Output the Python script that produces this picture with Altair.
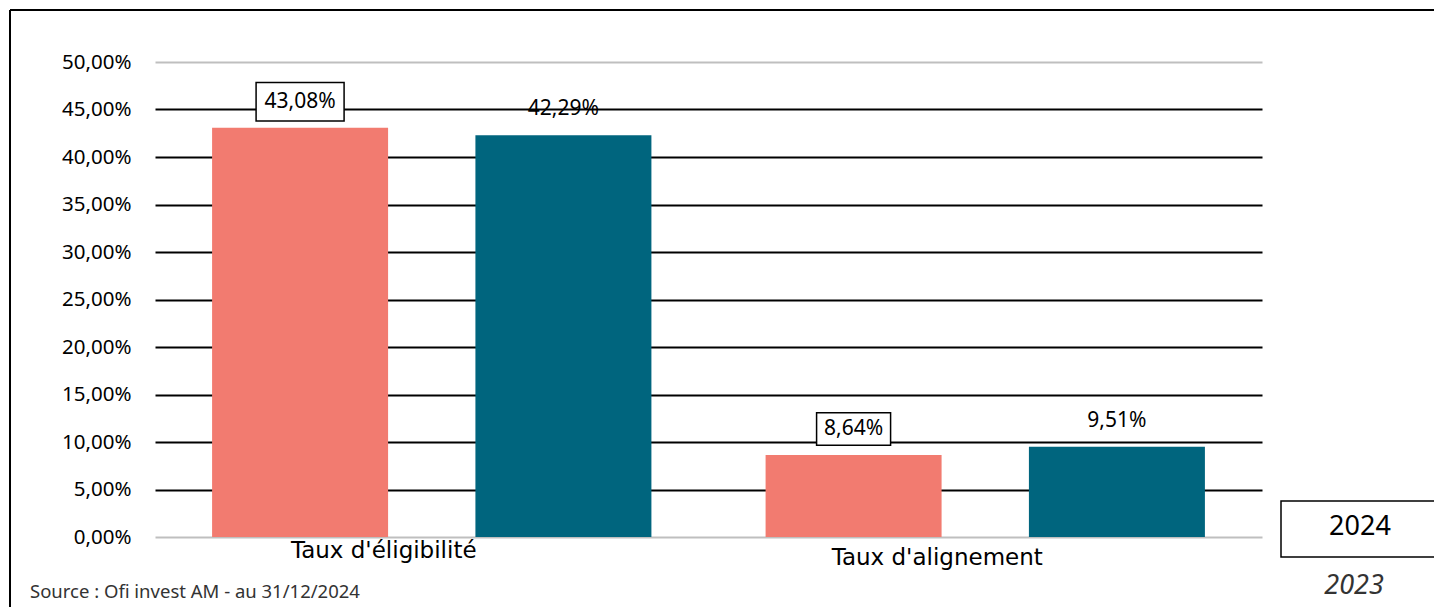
import altair as alt
import pandas as pd

categories = ["Taux d'éligibilité", "Taux d'alignement"]
years = ["2024", "2023"]
values_2024 = [0.4308, 0.0864]
values_2023 = [0.4229, 0.0951]
y_ticks = [0.0, 0.05, 0.10, 0.15, 0.20, 0.25, 0.30, 0.35, 0.40, 0.45, 0.50]
source_text = "Source : Ofi invest AM - au 31/12/2024"

rows = []
for c, v in zip(categories, values_2024):
    rows.append({"cat": c, "year": "2024", "value": v})
for c, v in zip(categories, values_2023):
    rows.append({"cat": c, "year": "2023", "value": v})
df = pd.DataFrame(rows)

FONT = "Noto Sans"
SALMON = "#F27B70"
TEAL = "#00657E"

x_enc = alt.X("cat:N", sort=categories,
              scale=alt.Scale(paddingInner=0, paddingOuter=0),
              axis=alt.Axis(title=None, labelAngle=0, domain=False, ticks=False,
                            labelFont="DejaVu Sans", labelFontSize=23, labelColor="black",
                            labelOffset=-48, labelBaseline="top", labelLimit=500,
                            labelPadding=alt.ExprRef("datum.value == \"Taux d'alignement\" ? 9 : 2")))
xo_enc = alt.XOffset("year:N", sort=years,
                     scale=alt.Scale(paddingInner=0.33, paddingOuter=0.216))
y_enc = alt.Y("value:Q",
              scale=alt.Scale(domain=[0, 0.5], nice=False),
              axis=alt.Axis(title=None, values=y_ticks, domain=False, ticks=False,
                            labelFont=FONT, labelFontSize=20.5, labelColor="black",
                            labelPadding=24,
                            labelExpr="replace(format(datum.value, '.2%'), '.', ',')",
                            grid=True,
                            gridColor=alt.ExprRef("datum.value == 0 || datum.value == 0.5 ? '#BFBFBF' : 'black'"),
                            gridWidth=2))

base = alt.Chart(df).transform_calculate(
    lab="replace(format(datum.value, '.2%'), '.', ',')"
)

bars = base.mark_bar(size=176).encode(
    x=x_enc, xOffset=xo_enc, y=y_enc,
    color=alt.Color("year:N", sort=years,
                    scale=alt.Scale(domain=years, range=[SALMON, TEAL]), legend=None),
)

boxes = base.transform_filter("datum.year == '2024'").transform_calculate(
    bs="pow(14 * length(datum.lab) + 4, 2)"
).mark_point(
    shape="M-1,-0.44L1,-0.44L1,0.44L-1,0.44Z", fill="white", stroke="black",
    strokeWidth=1.5, opacity=1, fillOpacity=1, yOffset=-26
).encode(
    x=alt.X("cat:N", sort=categories), xOffset=alt.XOffset("year:N", sort=years),
    y="value:Q",
    size=alt.Size("bs:Q", scale=None, legend=None),
)

labels = base.mark_text(font=FONT, fontSize=21, color="black", baseline="middle",
                        yOffset=-26).encode(
    x=alt.X("cat:N", sort=categories), xOffset=alt.XOffset("year:N", sort=years),
    y="value:Q", text="lab:N",
)

one = pd.DataFrame({"k": [0]})
deco = alt.Chart(one)

legend_box = deco.mark_rect(fill="white", stroke="black", strokeWidth=1.5).encode(
    x=alt.value(1126), x2=alt.value(1283), y=alt.value(439), y2=alt.value(495))
legend_2024 = deco.mark_text(font=FONT, fontSize=27, color="black", baseline="middle",
                             text=years[0]).encode(x=alt.value(1205), y=alt.value(465))
legend_2023 = deco.mark_text(font=FONT, fontSize=27, fontStyle="italic", color="#333333",
                             baseline="middle", text=years[1]).encode(
    x=alt.value(1199), y=alt.value(524))

border_top = deco.mark_rule(color="black", strokeWidth=2).encode(
    x=alt.value(-145), x2=alt.value(1300), y=alt.value(-52))
border_left = deco.mark_rule(color="black", strokeWidth=2).encode(
    x=alt.value(-145), y=alt.value(-52), y2=alt.value(562))

source = deco.mark_text(font=FONT, fontSize=18.5, color="#333333", align="left",
                        baseline="middle", text=source_text).encode(
    x=alt.value(-125), y=alt.value(530))

chart = alt.layer(
    bars, boxes, labels, legend_box, legend_2024, legend_2023,
    border_top, border_left, source
).properties(
    width=1107, height=475,
    padding={"left": 147, "top": 54, "right": 172, "bottom": 70},
    autosize=alt.AutoSizeParams(type="none"),
    background="white",
).configure_view(stroke=None)

chart.save("out.html", embed_options={"renderer": "svg", "actions": False})
